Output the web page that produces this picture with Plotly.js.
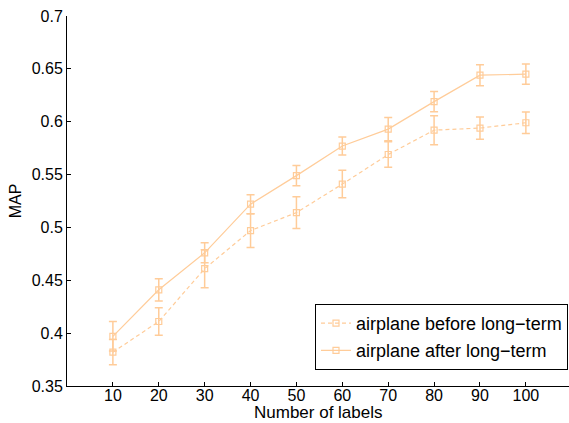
<!DOCTYPE html>
<html>
<head>
<meta charset="utf-8">
<script src="https://cdn.plot.ly/plotly-3.0.1.min.js"></script>
<style>html,body{margin:0;padding:0;background:#fff;}#chart{width:569px;height:423px;}</style>
</head>
<body>
<div id="chart"></div>
<script>
const labels = [10, 20, 30, 40, 50, 60, 70, 80, 90, 100];
const beforeMAP = [0.382, 0.411, 0.461, 0.497, 0.514, 0.541, 0.569, 0.592, 0.594, 0.599];
const beforeErr = [0.012, 0.013, 0.018, 0.016, 0.015, 0.013, 0.012, 0.0137, 0.0105, 0.0101];
const afterMAP = [0.397, 0.441, 0.476, 0.522, 0.549, 0.577, 0.593, 0.619, 0.644, 0.645];
const afterErr = [0.014, 0.0105, 0.0095, 0.009, 0.0095, 0.0085, 0.011, 0.0095, 0.010, 0.0096];
const yTicks = [0.35, 0.4, 0.45, 0.5, 0.55, 0.6, 0.65, 0.7];
const yTickText = ['0.35', '0.4', '0.45', '0.5', '0.55', '0.6', '0.65', '0.7'];
const seriesNames = ['airplane before long\u2212term', 'airplane after long\u2212term'];
const xTitle = 'Number of labels';
const yTitle = 'MAP';

const col = 'rgb(255,204,153)';
const font = 'Liberation Sans, Arial, Helvetica, sans-serif';

const traces = [
  {
    x: labels, y: beforeMAP, name: seriesNames[0], legendgroup: 'a',
    type: 'scatter', mode: 'lines+markers',
    line: {color: col, width: 1.2, dash: '4px,3px'},
    marker: {symbol: 'square-open', size: 6, color: col, line: {width: 1.2, color: col}},
    error_y: {type: 'data', array: beforeErr, visible: true, color: col, thickness: 1.5, width: 4}
  },
  {
    x: labels, y: afterMAP, name: seriesNames[1], legendgroup: 'b',
    type: 'scatter', mode: 'lines+markers',
    line: {color: col, width: 1.2},
    marker: {symbol: 'square-open', size: 6, color: col, line: {width: 1.2, color: col}},
    error_y: {type: 'data', array: afterErr, visible: true, color: col, thickness: 1.5, width: 4}
  }
];

const layout = {
  width: 569, height: 423,
  margin: {l: 67, r: 0, t: 16, b: 37, pad: 0},
  paper_bgcolor: '#fff', plot_bgcolor: '#fff',
  font: {family: font, size: 16, color: '#000'},
  showlegend: true,
  legend: {
    x: 0.998, xanchor: 'right', y: 0.222, yanchor: 'top',
    bgcolor: '#fff', bordercolor: '#000', borderwidth: 1,
    font: {family: font, size: 18, color: '#000'},
    traceorder: 'grouped', tracegroupgap: 1, itemwidth: 30
  },
  xaxis: {
    range: [0, 109.4], tickvals: labels, ticktext: labels.map(String),
    showline: true, linecolor: '#000', linewidth: 1,
    ticks: 'inside', ticklen: 4, tickcolor: '#000',
    ticklabelstandoff: -5,
    showgrid: false, zeroline: false,
    tickfont: {family: font, size: 16, color: '#000'}
  },
  yaxis: {
    range: [0.35, 0.7], tickvals: yTicks, ticktext: yTickText,
    showline: true, linecolor: '#000', linewidth: 1,
    ticks: 'inside', ticklen: 4, tickcolor: '#000',
    showgrid: false, zeroline: false,
    tickfont: {family: font, size: 16, color: '#000'},
    title: {text: yTitle, font: {family: font, size: 16, color: '#000'}, standoff: 6}
  },
  annotations: [{
    text: xTitle, xref: 'paper', yref: 'paper', x: 0.5, y: -0.1,
    xanchor: 'center', yanchor: 'bottom', showarrow: false, borderpad: 0,
    font: {family: font, size: 17, color: '#000'}
  }]
};

Plotly.newPlot('chart', traces, layout, {displayModeBar: false, staticPlot: true});
</script>
</body>
</html>
